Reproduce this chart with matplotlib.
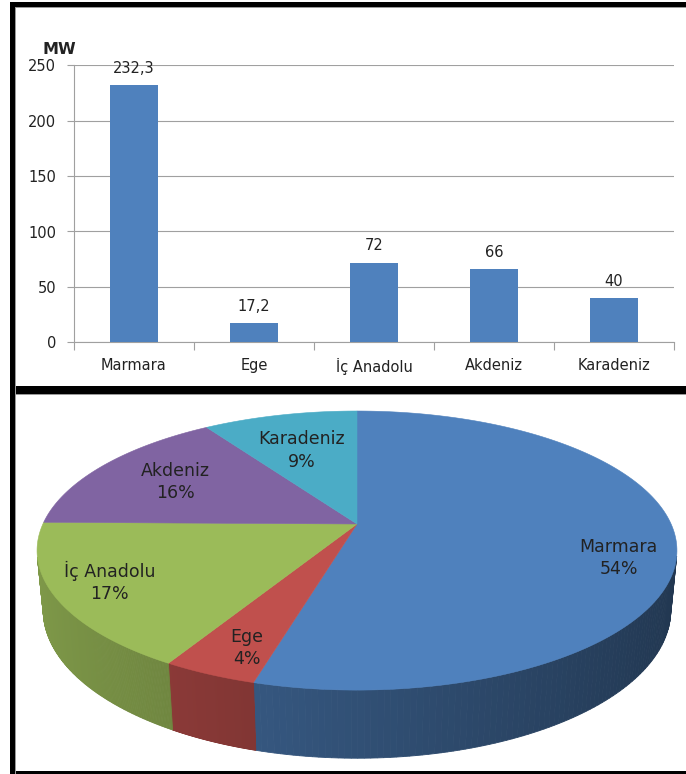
import numpy as np
import matplotlib.pyplot as plt
from matplotlib.patches import Polygon, Rectangle

# veriler
regions = ['Marmara', 'Ege', 'İç Anadolu', 'Akdeniz', 'Karadeniz']
mw = [232.3, 17.2, 72, 66, 40]
pct_labels = ['54%', '4%', '17%', '16%', '9%']
yticks = [0, 50, 100, 150, 200, 250]
colors = ['#4F81BD', '#C0504D', '#9BBB59', '#8064A2', '#4BACC6']

W, H = 686, 774
plt.rcParams['font.family'] = ['DejaVu Sans']
txt = '#222222'
grid = '#a0a0a0'

fig = plt.figure(figsize=(W / 100, H / 100), dpi=100)

# --- sütun grafiği ---
ax = fig.add_axes([74 / W, 1 - 342.3 / H, 600 / W, (342.3 - 65.3) / H])
x = np.arange(len(regions))
ax.bar(x, mw, width=0.4, color='#4F81BD', zorder=3)
ax.set_xlim(-0.5, 4.5)
ax.set_ylim(0, 250)
ax.set_yticks(yticks)
ax.set_axisbelow(True)
ax.yaxis.grid(True, color=grid, lw=0.8)
ax.set_xticks(np.arange(-0.5, 5, 1))
ax.set_xticklabels([])
ax.set_xticks(x, minor=True)
ax.set_xticklabels(regions, minor=True)
ax.tick_params(axis='x', which='minor', length=0, pad=11, labelsize=10.5, labelcolor=txt)
ax.tick_params(axis='x', which='major', length=6, color=grid)
ax.tick_params(axis='y', length=5, color=grid, labelsize=10.5, pad=8, labelcolor=txt)
for s in ['top', 'right']:
    ax.spines[s].set_visible(False)
ax.spines['left'].set_color(grid)
ax.spines['bottom'].set_color(grid)
for xi, v in zip(x, mw):
    ax.annotate(f'{v:g}'.replace('.', ','), (xi, v), xytext=(0, 12),
                textcoords='offset points', ha='center', va='center',
                fontsize=10.5, color=txt)
fig.text(59 / W, 1 - 49 / H, 'MW', fontweight='bold', fontsize=11.5,
         ha='center', va='center', color=txt)

# --- 3B pasta (piksel koordinatlarında) ---
pa = fig.add_axes([0, 0, 1, 1])
pa.set_xlim(0, W)
pa.set_ylim(H, 0)
pa.axis('off')

cx, cy = 357, 524
phi = np.radians(25.35)
D, f, depth_h = 4.75, 1492, 0.21

def proj(th, yw, r=1.0):
    xw = r * np.sin(th)
    zw = -r * np.cos(th)
    d = D - (yw * np.sin(phi) + zw * np.cos(phi))
    sx = f * xw / d
    sy = f * (yw * np.cos(phi) - zw * np.sin(phi)) / d
    return cx + sx, cy - sy

vals = np.array(mw)
bounds = np.concatenate([[0], np.cumsum(vals / vals.sum())]) * 2 * np.pi
lim = -1 / (D * np.cos(phi))

# yan yüzler
for i, c in enumerate(colors):
    base = np.array(plt.matplotlib.colors.to_rgb(c))
    th = np.linspace(bounds[i], bounds[i + 1], 200)
    for a, b in zip(th[:-1], th[1:]):
        m = (a + b) / 2
        if np.cos(m) >= lim:
            continue
        shade = 0.62 - 0.2 * np.sin(m)
        col = np.clip(base * shade, 0, 1)
        p1 = proj(a, 0); p2 = proj(b, 0)
        p3 = proj(b, -depth_h); p4 = proj(a, -depth_h)
        pa.add_patch(Polygon([p1, p2, p3, p4], closed=True, fc=col, ec=col,
                             lw=0.6, zorder=2))

# üst yüz
for i, c in enumerate(colors):
    th = np.linspace(bounds[i], bounds[i + 1], 200)
    pts = [(cx, cy)] + [proj(t, 0) for t in th]
    pa.add_patch(Polygon(pts, closed=True, fc=c, ec=c, lw=0.4, zorder=3))

# etiketler
lab_r = [0.83, 0.84, 0.83, 0.7, 0.64]
lab_dt = [9, -2, 1, 0, -1]
for i in range(len(regions)):
    m = (bounds[i] + bounds[i + 1]) / 2 + np.radians(lab_dt[i])
    lx, ly = proj(m, 0, lab_r[i])
    pa.text(lx, ly, f'{regions[i]}\n{pct_labels[i]}', ha='center', va='center',
            fontsize=12.5, color=txt, linespacing=1.3, zorder=5)

# çerçeveler
for (x0, y0, w, h, c) in [(10, 2, W - 10, 4.5, 'black'),
                          (10, 2, 4.5, H - 2, 'black'),
                          (10, 386, W - 10, 7.5, 'black'),
                          (10, 771, W - 10, 3, 'black'),
                          (14.5, 6.5, 1.5, H - 6.5, '#9a9a9a'),
                          (14.5, 6.5, W - 14.5, 1.2, '#9a9a9a'),
                          (14.5, 393.5, W - 14.5, 1.5, '#9a9a9a')]:
    pa.add_patch(Rectangle((x0, y0), w, h, fc=c, ec='none', zorder=6))

fig.savefig('out.png', dpi=100)
